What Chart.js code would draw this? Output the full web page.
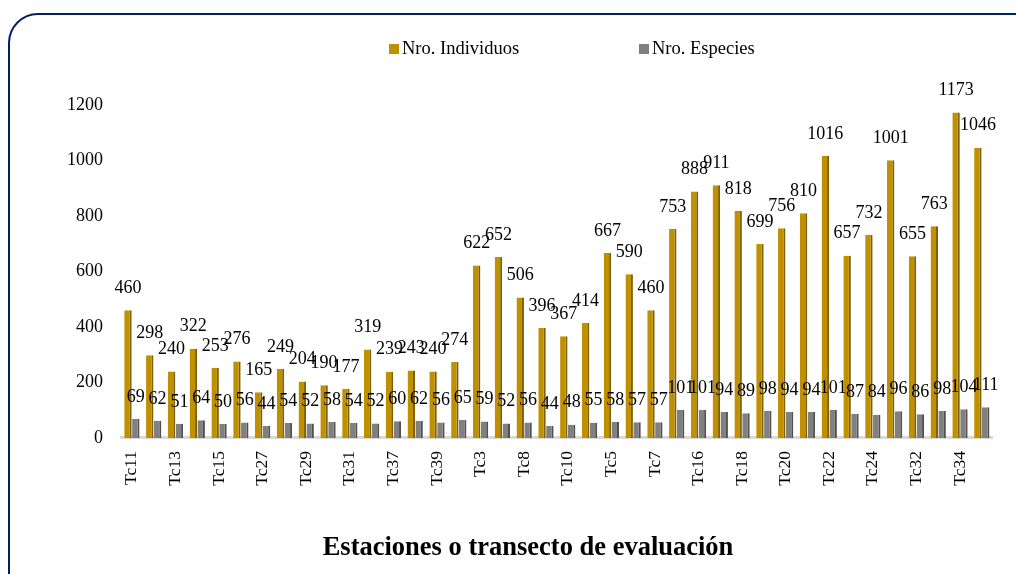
<!DOCTYPE html>
<html><head><meta charset="utf-8">
<script src="https://cdn.jsdelivr.net/npm/chart.js@4/dist/chart.umd.min.js"></script>
<style>
html,body{margin:0;padding:0;background:#fff;overflow:hidden}
#wrap{position:relative;width:1016px;height:574px;overflow:hidden}
#frame{position:absolute;left:8px;top:13px;width:1040px;height:600px;border:2px solid #002060;border-radius:30px;box-sizing:border-box}
canvas{position:absolute;left:0;top:0}
</style></head><body>
<div id="wrap"><div id="frame"></div><canvas id="c" width="1016" height="574"></canvas></div>
<script>
const categories = ["Tc11","Tc12","Tc13","Tc14","Tc15","Tc26","Tc27","Tc28","Tc29","Tc30",
  "Tc31","Tc36","Tc37","Tc38","Tc39","Tc40","Tc3","Tc2","Tc8","Tc9",
  "Tc10","Tc4","Tc5","Tc6","Tc7","Tc1","Tc16","Tc17","Tc18","Tc19",
  "Tc20","Tc21","Tc22","Tc23","Tc24","Tc25","Tc32","Tc33","Tc34","Tc35"];
const individuos = [460,298,240,322,253,276,165,249,204,190,
  177,319,239,243,240,274,622,652,506,396,
  367,414,667,590,460,753,888,911,818,699,
  756,810,1016,657,732,1001,655,763,1173,1046];
const especies = [69,62,51,64,50,56,44,54,52,58,
  54,52,60,62,56,65,59,52,56,44,
  48,55,58,57,57,101,101,94,89,98,
  94,94,101,87,84,96,86,98,104,111];
const seriesNames = ["Nro. Individuos","Nro. Especies"];
const axisTitle = "Estaciones o transecto de evaluación";
const yMin = 0, yMax = 1200, yStep = 200;

const FONT = "'Liberation Serif','Times New Roman',serif";
const colors = ["#BF9000","#808080"];
const sideColors = ["#7F6000","#505050"];

const valueLabels = {
  id:'valueLabels',
  afterDatasetsDraw(chart){
    const ctx = chart.ctx;
    ctx.save();
    ctx.font = "18px " + FONT;
    ctx.fillStyle = "#000";
    ctx.textAlign = "center";
    ctx.textBaseline = "middle";
    chart.data.datasets.forEach((ds, di) => {
      const meta = chart.getDatasetMeta(di);
      meta.data.forEach((el, i) => {
        ctx.fillText(String(ds.data[i]), el.x, el.y - 22);
      });
    });
    ctx.restore();
  }
};
const customLegend = {
  id:'customLegend',
  afterDraw(chart){
    const ctx = chart.ctx;
    ctx.save();
    ctx.font = "18.5px " + FONT;
    ctx.textBaseline = "middle";
    const xs = [389, 639];
    seriesNames.forEach((n, i) => {
      ctx.fillStyle = colors[i];
      ctx.fillRect(xs[i], 44, 10, 10);
      ctx.fillStyle = "#000";
      ctx.fillText(n, xs[i] + 13, 49);
    });
    ctx.restore();
  }
};

new Chart(document.getElementById('c'), {
  type:'bar',
  data:{
    labels: categories,
    datasets:[
      {label:seriesNames[0], data:individuos, backgroundColor:colors[0], borderColor:sideColors[0],
       borderWidth:{top:0,right:2,bottom:0,left:0}, borderSkipped:false,
       barPercentage:0.95, categoryPercentage:0.72},
      {label:seriesNames[1], data:especies, backgroundColor:colors[1], borderColor:sideColors[1],
       borderWidth:{top:0,right:2,bottom:0,left:0}, borderSkipped:false,
       barPercentage:0.95, categoryPercentage:0.72}
    ]
  },
  options:{
    responsive:false, animation:false, devicePixelRatio:1,
    layout:{padding:{left:56,right:16,top:105,bottom:14}},
    plugins:{
      legend:{display:false},
      tooltip:{enabled:false},
      title:{display:true, position:'bottom', text:axisTitle, color:'#000',
        font:{family:FONT, size:26.5, weight:'bold', lineHeight:0.906}, padding:{top:0,bottom:0}}
    },
    scales:{
      x:{
        grid:{display:false, drawTicks:false},
        border:{display:true, color:'#D9D9D9', width:3},
        ticks:{color:'#000', font:{family:FONT, size:17.5}, padding:13,
          autoSkip:false, maxRotation:90, minRotation:90,
          callback:(v,i)=> i%2===0 ? categories[i] : ''},
        afterFit(s){ s.height = 98; }
      },
      y:{
        min:yMin, max:yMax,
        grid:{display:false, drawTicks:false},
        border:{display:false},
        ticks:{stepSize:yStep, color:'#000', font:{family:FONT, size:18}, padding:18,
          callback:(v)=> String(v)},
        afterFit(s){ s.width = 65; }
      }
    }
  },
  plugins:[valueLabels, customLegend]
});
</script>
</body></html>
